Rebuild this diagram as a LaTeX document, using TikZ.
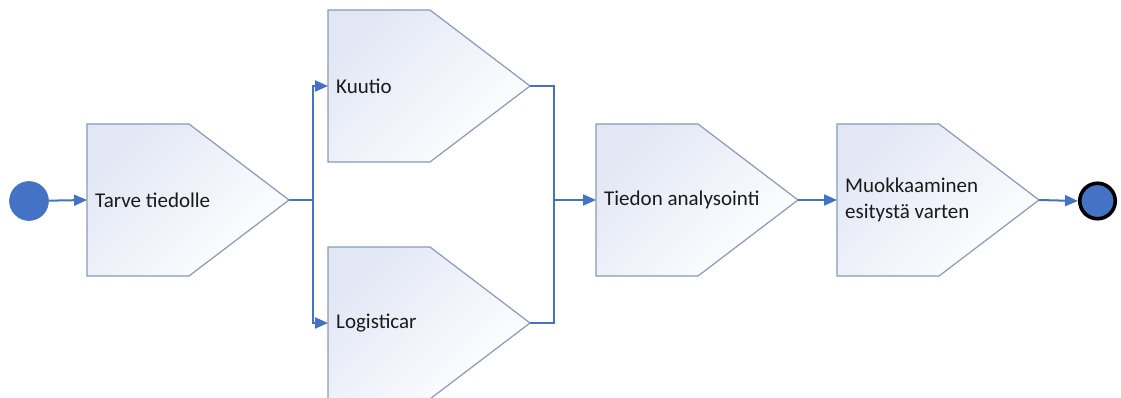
\documentclass[tikz,border=0pt]{standalone}
\usepackage{fontspec}
\setmainfont{Carlito}
\usetikzlibrary{arrows.meta,calc}
\definecolor{flowblue}{HTML}{4472C4}
\definecolor{boxedge}{HTML}{8A99B8}
\definecolor{boxtop}{HTML}{E2E7F5}
\definecolor{txt}{HTML}{1A1A1A}
\tikzset{
  procshape/.style={draw=boxedge, line width=1.2pt, top color=boxtop, bottom color=white, shading angle=45},
  proclabel/.style={anchor=west, inner sep=0pt, align=left, text=txt, font=\fontsize{21}{26}\selectfont},
  conn/.style={draw=flowblue, line width=2pt},
  arr/.style={conn, -{Triangle[length=13pt,width=11pt]}},
  startev/.style={circle, fill=flowblue, draw=flowblue, line width=0.6pt, minimum size=39pt, inner sep=0pt},
  endev/.style={circle, fill=flowblue, draw=black, line width=3.6pt, minimum size=35.5pt, inner sep=0pt}
}
\newcommand\procbox[4]{%
  \coordinate (#1-in) at (#2,#3);
  \coordinate (#1-out) at ({#2+202},#3);
  \path[procshape] (#2,{#3-76}) -- ({#2+102},{#3-76}) -- ({#2+202},#3) -- ({#2+102},{#3+76}) -- (#2,{#3+76}) -- cycle;
  \node[proclabel] (#1) at ({#2+8},#3) {#4};
}
\begin{document}
\begin{tikzpicture}[x=1pt,y=-1pt]
\useasboundingbox (0,0) rectangle (1121,398);
\procbox{tarve}{87}{200}{Tarve tiedolle}
\procbox{kuutio}{328}{86}{Kuutio}
\procbox{logist}{328}{323}{Logisticar}
\procbox{tiedon}{596}{200}{Tiedon analysointi}
\procbox{muok}{837}{200}{Muokkaaminen\\esitystä varten}
\node[startev] (start) at (29,201) {};
\node[endev] (end) at (1097.5,201) {};
\coordinate (split) at (313,200);
\coordinate (join) at (554,200);
\draw[arr] (start) -- (tarve-in);
\draw[conn] (tarve-out) -- (split);
\draw[arr] (split) |- (kuutio-in);
\draw[arr] (split) |- (logist-in);
\draw[conn] (kuutio-out) -| (join);
\draw[conn] (logist-out) -| (join);
\draw[arr] (join) -- (tiedon-in);
\draw[arr] (tiedon-out) -- (muok-in);
\draw[arr] (muok-out) -- (end-|end.west);
\end{tikzpicture}
\end{document}
